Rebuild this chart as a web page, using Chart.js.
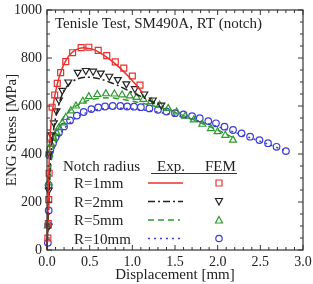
<!DOCTYPE html>
<html>
<head>
<meta charset="utf-8">
<script src="https://cdn.jsdelivr.net/npm/chart.js@4.4.0/dist/chart.umd.min.js"></script>
<style>
html, body { margin: 0; padding: 0; background: #fff; }
</style>
</head>
<body>
<canvas id="c" width="313" height="284"></canvas>
<script>
// experiment curves [displacement mm, stress MPa]
const expR1 = [[0,0],[0.01,150],[0.02,300],[0.03,420],[0.05,540],[0.08,620],[0.12,690],[0.17,750],[0.23,795],[0.3,825],[0.38,840],[0.45,842],[0.55,835],[0.65,815],[0.75,790],[0.85,760],[0.95,725],[1.05,685],[1.12,655]];
const expR2 = [[0,0],[0.02,200],[0.04,380],[0.07,480],[0.1,550],[0.15,620],[0.2,665],[0.27,695],[0.35,712],[0.45,720],[0.55,718],[0.65,710],[0.75,697],[0.85,682],[0.95,665],[1.05,648],[1.15,632],[1.25,615],[1.35,598]];
const expR5 = [[0,0],[0.02,180],[0.04,330],[0.07,420],[0.1,470],[0.15,520],[0.2,555],[0.3,590],[0.4,612],[0.5,625],[0.6,632],[0.7,634],[0.8,632],[0.9,627],[1.0,620],[1.2,605],[1.4,585],[1.6,560],[1.8,530],[2.0,500],[2.2,465]];
const expR10 = [[0,0],[0.02,200],[0.04,350],[0.07,410],[0.1,440],[0.15,475],[0.2,505],[0.3,540],[0.4,563],[0.5,577],[0.6,586],[0.7,590],[0.8,591],[0.9,590],[1.0,588],[1.2,580],[1.4,568],[1.6,553],[1.8,535],[2.0,514],[2.2,490],[2.4,465],[2.6,440],[2.8,412]];

// FEM results
const femR1 = [[0.01,50],[0.015,110],[0.02,210],[0.025,320],[0.04,470],[0.06,595],[0.09,646],[0.12,694],[0.16,739],[0.22,785],[0.3,822],[0.4,843],[0.49,845],[0.6,832],[0.7,810],[0.8,784],[0.9,758],[1.0,725],[1.09,687]];
const femR2 = [[0.02,100],[0.02,250],[0.03,400],[0.05,480],[0.08,530],[0.11,580],[0.14,625],[0.18,665],[0.25,700],[0.36,740],[0.455,748],[0.54,745],[0.63,737],[0.73,724],[0.83,710],[0.93,692],[1.03,672],[1.14,650],[1.24,625],[1.34,604]];
const femR5 = [[0.01,100],[0.02,280],[0.025,400],[0.05,440],[0.08,465],[0.11,490],[0.14,510],[0.18,530],[0.22,552],[0.28,580],[0.34,600],[0.42,620],[0.49,639],[0.59,648],[0.69,651],[0.79,650],[0.88,646],[0.97,642],[1.05,636],[1.13,628],[1.22,618],[1.32,604],[1.42,590],[1.52,575],[1.62,558],[1.72,542],[1.82,524],[1.92,506],[2.0,493],[2.09,478],[2.18,458]];
const femR10 = [[0.01,30],[0.015,104],[0.02,165],[0.02,270],[0.025,396],[0.04,420],[0.07,445],[0.1,470],[0.14,490],[0.2,515],[0.27,540],[0.35,560],[0.43,575],[0.52,587],[0.6,594],[0.68,598],[0.77,600],[0.86,600],[0.94,598],[1.02,597],[1.1,595],[1.2,590],[1.3,584],[1.4,577],[1.5,570],[1.6,565],[1.7,558],[1.79,549],[1.89,537],[1.98,528],[2.08,514],[2.18,500],[2.28,486],[2.38,472],[2.49,458],[2.59,445],[2.69,430],[2.8,412]];

const radiusLabels = ['R=1mm', 'R=2mm', 'R=5mm', 'R=10mm'];
const titleText = 'Tenisle Test, SM490A, RT (notch)';

const red = '#e8322e', black = '#222', green = '#2e9a2e', blue = '#3b3bd8';
const serif = '"Liberation Serif", "DejaVu Serif", serif';

function pts(arr) { return arr.map(p => ({x: p[0], y: p[1]})); }

function expSet(arr, color, dash) {
    return { type: 'line', data: pts(arr), borderColor: color, borderWidth: 1.5,
        borderDash: dash, pointRadius: 0, fill: false, tension: 0.3, clip: false };
}
function femSet(arr, color, style, rot, r) {
    return { type: 'scatter', data: pts(arr), borderColor: color, backgroundColor: 'rgba(0,0,0,0)',
        pointStyle: style, rotation: rot, pointRadius: r, pointBorderWidth: 1.2, showLine: false, clip: false };
}

// frame, inner ticks, title text and legend table
const decor = {
    id: 'decor',
    afterDraw(chart) {
        const ctx = chart.ctx, a = chart.chartArea;
        const x = chart.scales.x, y = chart.scales.y;
        ctx.save();
        ctx.strokeStyle = '#333';
        ctx.lineWidth = 1.2;
        ctx.strokeRect(a.left, a.top, a.right - a.left, a.bottom - a.top);
        ctx.lineWidth = 1;
        ctx.beginPath();
        for (let i = 0; i <= 30; i++) {
            const px = x.getPixelForValue(i / 10);
            const len = i % 5 == 0 ? 5 : 3;
            ctx.moveTo(px, a.bottom); ctx.lineTo(px, a.bottom - len);
            ctx.moveTo(px, a.top); ctx.lineTo(px, a.top + len);
        }
        for (let i = 0; i <= 20; i++) {
            const py = y.getPixelForValue(i * 50);
            const len = i % 4 == 0 ? 5 : 3;
            ctx.moveTo(a.left, py); ctx.lineTo(a.left + len, py);
            ctx.moveTo(a.right, py); ctx.lineTo(a.right - len, py);
        }
        ctx.stroke();

        ctx.fillStyle = '#222';
        ctx.font = '15px ' + serif;
        ctx.textBaseline = 'alphabetic';
        ctx.fillText(titleText, a.left + 8, a.top + 18);

        // legend table
        const lx = a.left, ly = a.top;
        ctx.fillText('Notch radius', lx + 16, ly + 161);
        ctx.fillText('Exp.', lx + 110, ly + 161);
        ctx.fillText('FEM', lx + 158, ly + 161);
        ctx.beginPath();
        ctx.moveTo(lx + 104, ly + 163.5); ctx.lineTo(lx + 190, ly + 163.5);
        ctx.stroke();

        const rows = [
            {c: red, dash: [], end: 136, m: 'rect'},
            {c: black, dash: [7, 3, 2, 3], end: 136, m: 'down'},
            {c: green, dash: [6, 4], end: 133, m: 'up'},
            {c: blue, dash: [2, 4], end: 133, m: 'circle'}
        ];
        rows.forEach((r, i) => {
            const yy = ly + 173 + i * 18.5;
            ctx.fillStyle = '#222';
            ctx.fillText(radiusLabels[i], lx + 27, yy + 5);
            ctx.strokeStyle = r.c;
            ctx.lineWidth = 1.5;
            ctx.setLineDash(r.dash);
            ctx.beginPath();
            ctx.moveTo(lx + 101, yy); ctx.lineTo(lx + r.end, yy);
            ctx.stroke();
            ctx.setLineDash([]);
            ctx.lineWidth = 1.2;
            const mx = lx + 172;
            ctx.beginPath();
            if (r.m == 'rect') {
                ctx.rect(mx - 3, yy - 3, 6, 6);
            } else if (r.m == 'down') {
                ctx.moveTo(mx - 3.5, yy - 3); ctx.lineTo(mx + 3.5, yy - 3); ctx.lineTo(mx, yy + 3.5); ctx.closePath();
            } else if (r.m == 'up') {
                ctx.moveTo(mx - 3.5, yy + 3); ctx.lineTo(mx + 3.5, yy + 3); ctx.lineTo(mx, yy - 3.5); ctx.closePath();
            } else {
                ctx.arc(mx, yy, 3.2, 0, Math.PI * 2);
            }
            ctx.stroke();
        });
        ctx.restore();
    }
};

new Chart(document.getElementById('c'), {
    data: {
        datasets: [
            expSet(expR1, red, []),
            expSet(expR2, black, [7, 3, 2, 3]),
            expSet(expR5, green, [6, 4]),
            expSet(expR10, blue, [2, 4]),
            femSet(femR1, red, 'rect', 0, 4.2),
            femSet(femR2, black, 'triangle', 180, 4),
            femSet(femR5, green, 'triangle', 0, 4),
            femSet(femR10, blue, 'circle', 0, 3.3)
        ]
    },
    options: {
        responsive: false,
        animation: false,
        layout: { padding: { top: 10, right: 10, left: 0, bottom: 0 } },
        plugins: { legend: { display: false }, tooltip: { enabled: false } },
        scales: {
            x: {
                type: 'linear', min: 0, max: 3,
                grid: { display: false, drawTicks: false },
                border: { display: false },
                ticks: { stepSize: 0.5, padding: 4, color: '#222', font: { family: serif, size: 14 },
                    callback: v => v.toFixed(1) },
                title: { display: true, text: 'Displacement [mm]', color: '#222',
                    font: { family: serif, size: 15 }, padding: { top: 0, bottom: 0 } },
                afterFit: s => { s.height = 34; s.paddingLeft = 0; s.paddingRight = 0; }
            },
            y: {
                type: 'linear', min: 0, max: 1000,
                grid: { display: false, drawTicks: false },
                border: { display: false },
                ticks: { stepSize: 200, padding: 5, color: '#222', font: { family: serif, size: 14 },
                    callback: v => String(v) },
                title: { display: true, text: 'ENG Stress [MPa]', color: '#222',
                    font: { family: serif, size: 15 }, padding: { top: 3, bottom: 0 } },
                afterFit: s => { s.width = 47; s.paddingTop = 0; s.paddingBottom = 0; }
            }
        }
    },
    plugins: [decor]
});
</script>
</body>
</html>
